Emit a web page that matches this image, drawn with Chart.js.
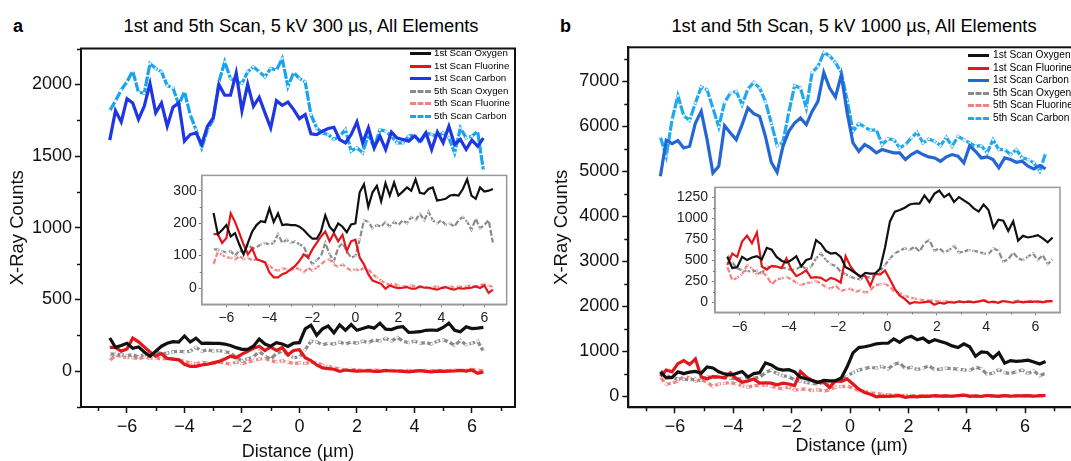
<!DOCTYPE html>
<html>
<head>
<meta charset="utf-8">
<script src="https://cdn.jsdelivr.net/npm/chart.js@4"></script>
<style>
  body { margin: 0; width: 1071px; height: 461px; overflow: hidden; background: #fff; position: relative;
         font-family: "Liberation Sans", Arial, sans-serif; }
  canvas { position: absolute; }
  .panel-tag { position: absolute; font-size: 18px; font-weight: bold; line-height: 20px; }
  .panel-title { position: absolute; font-size: 18.3px; line-height: 20px; white-space: nowrap; text-align: center; width: 480px; }
  .legend { position: absolute; font-size: 10.2px; line-height: 12.6px; white-space: nowrap; }
  .legend div { height: 12.6px; position: relative; }
  .legend span.sw { position: absolute; left: 0; top: 5px; width: 21px; height: 0; }
  .legend span.tx { position: absolute; left: 25px; top: 0; }
  #legendA { font-size: 9.7px; }
  #legendA span.tx { left: 24px; }
</style>
</head>
<body>
<div class="panel-tag" style="left:13px;top:16px">a</div>
<div class="panel-title" style="left:61px;top:16px">1st and 5th Scan, 5 kV 300 µs, All Elements</div>
<div class="panel-tag" style="left:560px;top:16px">b</div>
<div class="panel-title" style="left:614px;top:16px">1st and 5th Scan, 5 kV 1000 µs, All Elements</div>

<canvas id="mainA"></canvas>
<canvas id="insetA"></canvas>
<canvas id="mainB"></canvas>
<canvas id="insetB"></canvas>
<div class="legend" id="legendA" style="left:410px;top:47px"></div>
<div class="legend" id="legendB" style="left:968px;top:49px"></div>

<script>
// 横轴位置 (µm)
const distA = [-6.6,-6.4,-6.2,-6.0,-5.8,-5.6,-5.4,-5.2,-5.0,-4.8,-4.6,-4.4,-4.2,-4.0,-3.8,-3.6,-3.4,-3.2,-3.0,-2.8,
  -2.6,-2.4,-2.2,-2.0,-1.8,-1.6,-1.4,-1.2,-1.0,-0.8,-0.6,-0.4,-0.2,0.0,0.2,0.4,0.6,0.8,1.0,1.2,
  1.4,1.6,1.8,2.0,2.2,2.4,2.6,2.8,3.0,3.2,3.4,3.6,3.8,4.0,4.2,4.4,4.6,4.8,5.0,5.2,
  5.4,5.6,5.8,6.0,6.2,6.4];
const distB = [-6.5,-6.3,-6.1,-5.9,-5.7,-5.5,-5.3,-5.1,-4.9,-4.7,-4.5,-4.3,-4.1,-3.9,-3.7,-3.5,-3.3,-3.1,-2.9,-2.7,
  -2.5,-2.3,-2.1,-1.9,-1.7,-1.5,-1.3,-1.1,-0.9,-0.7,-0.5,-0.3,-0.1,0.1,0.3,0.5,0.7,0.9,1.1,1.3,
  1.5,1.7,1.9,2.1,2.3,2.5,2.7,2.9,3.1,3.3,3.5,3.7,3.9,4.1,4.3,4.5,4.7,4.9,5.1,5.3,
  5.5,5.7,5.9,6.1,6.3,6.5,6.7];

// a: 5 kV 300 µs
const oxy1A = [231,166,179,194,159,169,134,104,139,174,194,206,203,245,203,230,194,196,194,194,
  189,179,164,152,152,174,224,189,174,199,189,172,196,199,295,320,250,295,315,267,
  323,285,325,285,297,310,300,335,293,290,305,310,270,272,275,285,287,285,305,335,
  285,275,310,297,300,305];
const flu1A = [166,166,139,154,230,204,169,134,104,122,89,84,79,48,33,33,43,48,58,68,
  84,104,94,119,139,159,174,144,169,144,164,114,144,149,94,73,43,23,18,13,
  -2,8,3,0,1,3,-2,-2,5,1,1,-2,-5,0,3,-2,-5,0,-2,0,
  1,5,0,8,-15,-5];
const car1A = [1611,1817,1738,1900,1870,1755,1847,2005,1801,1870,1708,1840,1870,1604,1650,1662,1581,1708,1766,1998,
  1924,1924,2079,1817,2002,1847,1910,1801,1697,1886,1854,1877,1824,1761,1789,1655,1650,1673,1692,1701,
  1615,1592,1650,1738,1592,1697,1557,1639,1546,1667,1625,1615,1604,1639,1604,1662,1546,1667,1592,1708,
  1581,1615,1546,1611,1569,1625];
const oxy5A = [119,119,114,109,114,99,116,109,134,122,126,134,139,134,139,166,139,149,139,144,
  134,129,94,73,86,99,139,104,83,124,139,114,94,99,149,209,204,184,194,189,
  204,189,204,194,209,199,219,209,229,209,235,209,199,209,194,199,189,209,219,204,
  179,214,184,194,209,139];
const flu5A = [73,112,102,94,94,86,99,89,94,84,89,84,79,68,58,53,61,58,53,63,
  58,48,63,53,63,73,84,89,73,65,73,63,53,58,53,63,58,43,33,23,
  15,11,13,8,5,5,8,5,3,5,1,3,5,1,3,5,3,5,3,5,
  8,5,8,13,8,3];
const car5A = [1816,1885,1961,2018,2092,1945,1938,2145,2111,2088,1991,1977,1857,1949,1788,1684,1558,1684,1753,2018,
  2157,2041,2018,2007,2088,2122,2088,2053,2111,2099,2180,1984,2083,2041,2018,1788,1696,1661,1650,1615,
  1638,1684,1535,1558,1523,1650,1558,1684,1673,1638,1592,1592,1638,1650,1592,1661,1650,1638,1661,1627,
  1523,1696,1627,1638,1673,1400];

// b: 5 kV 1000 µs
const oxy1B = [538,404,415,538,500,531,546,508,646,623,538,492,469,500,546,423,500,519,738,692,
  608,577,585,538,415,385,346,300,346,338,340,400,650,960,1077,1096,1123,1161,1173,1173,
  1269,1192,1288,1327,1250,1288,1192,1250,1211,1173,1115,1077,1161,1096,885,981,969,846,962,731,
  788,769,780,796,758,711,769];
const flu1B = [442,577,538,720,790,700,827,423,385,431,423,404,520,385,308,338,377,288,296,288,
  250,288,269,231,546,423,346,308,308,192,338,327,377,269,154,77,38,-19,0,-8,
  0,8,-31,-8,-19,0,-8,8,0,4,-4,8,20,-5,4,-10,12,4,-8,8,
  -4,4,2,8,-4,10,12];
const car1B = [4885,5683,5610,5676,5514,5550,6068,6326,5698,4960,5106,6009,5847,5698,6031,6401,6275,6215,5772,5195,
  4973,5550,5883,6068,6179,6031,6326,6548,7191,6845,6645,7140,6300,5625,5439,5588,5514,5403,5477,5439,
  5403,5403,5255,5366,5439,5366,5315,5292,5218,5315,5366,5329,5181,5565,5439,5292,5315,5255,5071,5292,
  5255,5195,5218,5107,5048,5122,5048];
const oxy5B = [558,470,400,380,370,360,375,345,420,420,420,410,400,380,390,430,395,420,520,580,
  500,450,430,360,330,300,280,270,300,290,320,370,440,520,580,610,640,620,660,600,
  700,740,610,640,590,620,670,590,600,620,610,600,580,570,640,610,480,510,590,520,
  500,540,580,500,560,450,510];
const flu5B = [420,260,290,330,440,400,330,360,310,210,270,280,300,270,230,200,230,230,250,220,
  180,160,200,130,150,160,120,140,110,140,200,210,220,180,120,110,70,60,40,30,
  20,20,10,15,5,10,0,5,-5,10,0,5,25,10,-5,0,15,-5,5,20,
  0,10,15,-5,10,5,5];
const car5B = [5758,5328,6142,6674,6231,6127,6512,6867,6807,6401,5980,6526,6734,6770,6475,6823,6970,6845,6548,6068,
  5565,5639,6304,6896,6845,6401,7191,7324,7634,7561,7412,7191,6585,5883,6053,5980,5905,5920,5588,5713,
  5698,5514,5588,5735,5860,5624,5713,5661,5565,5750,5550,5772,5698,5624,5550,5565,5403,5698,5477,5477,
  5366,5477,5292,5255,5181,4995,5388];

// 刻度
const seriesNames = ['1st Scan Oxygen', '1st Scan Fluorine', '1st Scan Carbon', '5th Scan Oxygen', '5th Scan Fluorine', '5th Scan Carbon'];
const xTicks = [-6, -4, -2, 0, 2, 4, 6];
const xMinor = [-7, -5, -3, -1, 1, 3, 5, 7];
const yTicksA = [0, 500, 1000, 1500, 2000];
const yMinorA = [-250, 250, 750, 1250, 1750, 2250];
const yTicksInsetA = [0, 100, 200, 300];
const yMinorInsetA = [50, 150, 250];
const yTicksB = [0, 1000, 2000, 3000, 4000, 5000, 6000, 7000];
const yMinorB = [500, 1500, 2500, 3500, 4500, 5500, 6500, 7500];
const yTicksInsetB = [0, 250, 500, 750, 1000, 1250];
const yMinorInsetB = [125, 375, 625, 875, 1125];

const FONT = 'Liberation Sans, Arial, sans-serif';

function minus(v) {
    return v < 0 ? '\u2212' + Math.abs(v) : String(v);
}

function pts(xs, ys) {
    return xs.map((x, i) => ({ x: x, y: ys[i] }));
}

// 图框 + 次刻度
const framePlugin = {
    id: 'frame',
    beforeDraw(chart, args, opts) {
        if (!opts.fill) return;
        const a = chart.chartArea;
        chart.ctx.save();
        chart.ctx.fillStyle = opts.fill;
        chart.ctx.fillRect(a.left, a.top, a.right - a.left, a.bottom - a.top);
        chart.ctx.restore();
    },
    afterDraw(chart, args, opts) {
        const { ctx, chartArea: a, scales } = chart;
        ctx.save();
        ctx.strokeStyle = opts.color;
        ctx.lineWidth = opts.width;
        ctx.strokeRect(a.left, a.top, a.right - a.left, a.bottom - a.top);
        ctx.strokeStyle = opts.tickColor;
        ctx.lineWidth = opts.tickWidth;
        ctx.beginPath();
        (opts.minorX || []).forEach(v => {
            const px = Math.round(scales.x.getPixelForValue(v)) + 0.5;
            ctx.moveTo(px, a.bottom);
            ctx.lineTo(px, a.bottom + opts.minorLen);
        });
        (opts.minorY || []).forEach(v => {
            const py = Math.round(scales.y.getPixelForValue(v)) + 0.5;
            ctx.moveTo(a.left, py);
            ctx.lineTo(a.left - opts.minorLen, py);
        });
        ctx.stroke();
        ctx.restore();
    }
};

function lineSet(label, data, color, dash, width, dot) {
    return {
        label: label,
        data: data,
        borderColor: color,
        backgroundColor: color,
        borderWidth: width,
        borderDash: dash,
        pointRadius: dot,
        pointBackgroundColor: 'rgba(255,255,255,0.85)',
        pointBorderWidth: 0,
        tension: 0,
        fill: false
    };
}

// 建立一个图（box 为画布位置, area 为绘图区位置, 都是页面坐标）
function buildChart(id, box, area, cfg) {
    const cv = document.getElementById(id);
    cv.width = box.w;
    cv.height = box.h;
    cv.style.left = box.left + 'px';
    cv.style.top = box.top + 'px';
    const yW = area.l - box.left;
    const xH = box.top + box.h - area.b;
    return new Chart(cv, {
        type: 'line',
        data: { datasets: cfg.datasets },
        options: {
            responsive: false,
            animation: false,
            layout: { padding: { left: 0, top: area.t - box.top, right: box.left + box.w - area.r, bottom: 0 } },
            plugins: {
                legend: { display: false },
                tooltip: { enabled: false },
                frame: {
                    color: cfg.frameColor, width: cfg.frameWidth, fill: cfg.fill,
                    tickColor: cfg.tickColor, tickWidth: cfg.tickWidth,
                    minorX: cfg.minorX, minorY: cfg.minorY, minorLen: cfg.minorLen
                }
            },
            scales: {
                x: {
                    type: 'linear',
                    min: cfg.xMin, max: cfg.xMax,
                    afterFit: s => { s.height = xH; },
                    afterBuildTicks: s => { s.ticks = cfg.xTicks.map(v => ({ value: v })); },
                    ticks: { color: cfg.labelColor, font: { family: FONT, size: cfg.fontSize }, padding: cfg.xPad, maxRotation: 0, autoSkip: false, callback: minus },
                    grid: { drawOnChartArea: false, tickLength: cfg.tickLen, tickColor: cfg.tickColor, tickWidth: cfg.tickWidth },
                    border: { display: true, color: cfg.frameColor, width: cfg.frameWidth },
                    title: cfg.xTitle ? { display: true, text: cfg.xTitle, color: '#111', font: { family: FONT, size: 18 }, padding: cfg.xTitlePad } : { display: false }
                },
                y: {
                    min: cfg.yMin, max: cfg.yMax,
                    afterFit: s => { s.width = yW; },
                    afterBuildTicks: s => { s.ticks = cfg.yTicks.map(v => ({ value: v })); },
                    ticks: { color: cfg.labelColor, font: { family: FONT, size: cfg.fontSize }, padding: cfg.yPad, autoSkip: false, callback: minus },
                    grid: { drawOnChartArea: false, tickLength: cfg.tickLen, tickColor: cfg.tickColor, tickWidth: cfg.tickWidth },
                    border: { display: true, color: cfg.frameColor, width: cfg.frameWidth },
                    title: cfg.yTitle ? { display: true, text: cfg.yTitle, color: '#111', font: { family: FONT, size: 18.5 }, padding: cfg.yTitlePad } : { display: false }
                }
            }
        },
        plugins: [framePlugin]
    });
}

// 图例 (HTML)
function buildLegend(id, colors) {
    const el = document.getElementById(id);
    seriesNames.forEach((name, i) => {
        const row = document.createElement('div');
        const sw = document.createElement('span');
        sw.className = 'sw';
        sw.style.borderTop = '3px ' + (i >= 3 ? 'dashed ' : 'solid ') + colors[i];
        const tx = document.createElement('span');
        tx.className = 'tx';
        tx.textContent = name;
        row.appendChild(sw);
        row.appendChild(tx);
        el.appendChild(row);
    });
}

const DASH = [6, 2];
const DASH_C = [10, 1.5];

function initPanelA() {
    const colors = ['#111111', '#e3161c', '#1f36e4', '#8a8a8a', '#f28282', '#17a3ef'];
    const mainSets = [
        lineSet(seriesNames[0], pts(distA, oxy1A), colors[0], [], 3.2, 0),
        lineSet(seriesNames[1], pts(distA, flu1A), colors[1], [], 3.2, 0),
        lineSet(seriesNames[2], pts(distA, car1A), colors[2], [], 3.2, 0),
        lineSet(seriesNames[3], pts(distA, oxy5A), colors[3], DASH, 3.2, 1.3),
        lineSet(seriesNames[4], pts(distA, flu5A), colors[4], DASH, 3.2, 1.3),
        lineSet(seriesNames[5], pts(distA, car5A), colors[5], DASH_C, 3.2, 1.3)
    ];
    buildChart('mainA', { left: 0, top: 0, w: 540, h: 461 }, { l: 81, t: 48.5, r: 515, b: 407 }, {
        datasets: mainSets,
        xMin: -7.6, xMax: 7.5, yMin: -250, yMax: 2250,
        xTicks: xTicks, yTicks: yTicksA, minorX: xMinor, minorY: yMinorA,
        fontSize: 18, labelColor: '#111', frameColor: '#111', frameWidth: 2,
        tickColor: '#111', tickWidth: 1.5, tickLen: 6, minorLen: 4,
        xPad: 3, yPad: 3, xTitle: 'Distance (µm)', xTitlePad: { top: 0, bottom: -2 },
        yTitle: 'X-Ray Counts', yTitlePad: { top: 7, bottom: 0 }
    });
    const insetSets = [
        lineSet(seriesNames[0], pts(distA, oxy1A), colors[0], [], 2.2, 0),
        lineSet(seriesNames[1], pts(distA, flu1A), colors[1], [], 2.2, 0),
        lineSet(seriesNames[3], pts(distA, oxy5A), colors[3], DASH, 2.2, 0.9),
        lineSet(seriesNames[4], pts(distA, flu5A), colors[4], DASH, 2.2, 0.9)
    ];
    buildChart('insetA', { left: 165, top: 165, w: 355, h: 165 }, { l: 201.7, t: 172.7, r: 506.7, b: 304.3 }, {
        datasets: insetSets, fill: '#ffffff',
        xMin: -7.15, xMax: 7.04, yMin: -50, yMax: 347,
        xTicks: xTicks, yTicks: yTicksInsetA, minorX: xMinor.slice(1, -1), minorY: yMinorInsetA,
        fontSize: 14, labelColor: '#222', frameColor: '#999', frameWidth: 1.5,
        tickColor: '#777', tickWidth: 1, tickLen: 3, minorLen: 2,
        xPad: 2, yPad: 2
    });
    buildLegend('legendA', colors);
}

function initPanelB() {
    const colors = ['#111111', '#e3161c', '#2467d4', '#8a8a8a', '#f28282', '#22a8ee'];
    const mainSets = [
        lineSet(seriesNames[0], pts(distB, oxy1B), colors[0], [], 3.2, 0),
        lineSet(seriesNames[1], pts(distB, flu1B), colors[1], [], 3.2, 0),
        lineSet(seriesNames[2], pts(distB, car1B), colors[2], [], 3.2, 0),
        lineSet(seriesNames[3], pts(distB, oxy5B), colors[3], DASH, 3.2, 1.3),
        lineSet(seriesNames[4], pts(distB, flu5B), colors[4], DASH, 3.2, 1.3),
        lineSet(seriesNames[5], pts(distB, car5B), colors[5], DASH_C, 3.2, 1.3)
    ];
    buildChart('mainB', { left: 540, top: 0, w: 545, h: 461 }, { l: 628.3, t: 47.3, r: 1075, b: 407.3 }, {
        datasets: mainSets,
        xMin: -7.6, xMax: 7.71, yMin: -250, yMax: 7750,
        xTicks: xTicks, yTicks: yTicksB, minorX: xMinor, minorY: yMinorB,
        fontSize: 18, labelColor: '#111', frameColor: '#111', frameWidth: 2,
        tickColor: '#111', tickWidth: 1.5, tickLen: 6, minorLen: 4,
        xPad: 3, yPad: 3, xTitle: 'Distance (µm)', xTitlePad: { top: 0, bottom: 4 },
        yTitle: 'X-Ray Counts', yTitlePad: { top: 11, bottom: 0 }
    });
    const insetSets = [
        lineSet(seriesNames[0], pts(distB, oxy1B), colors[0], [], 2.2, 0),
        lineSet(seriesNames[1], pts(distB, flu1B), colors[1], [], 2.2, 0),
        lineSet(seriesNames[3], pts(distB, oxy5B), colors[3], DASH, 2.2, 0.9),
        lineSet(seriesNames[4], pts(distB, flu5B), colors[4], DASH, 2.2, 0.9)
    ];
    buildChart('insetB', { left: 665, top: 175, w: 405, h: 160 }, { l: 715, t: 183.3, r: 1060, b: 312.3 }, {
        datasets: insetSets, fill: '#ffffff',
        xMin: -7.0, xMax: 7.0, yMin: -122, yMax: 1365,
        xTicks: xTicks, yTicks: yTicksInsetB, minorX: xMinor.slice(1, -1), minorY: yMinorInsetB,
        fontSize: 14, labelColor: '#222', frameColor: '#999', frameWidth: 1.5,
        tickColor: '#777', tickWidth: 1, tickLen: 3, minorLen: 2,
        xPad: 3, yPad: 4
    });
    buildLegend('legendB', colors);
}

try {
    initPanelA();
    initPanelB();
} catch (error) {
    console.error('初始化图表失败:', error);
}
</script>
</body>
</html>
